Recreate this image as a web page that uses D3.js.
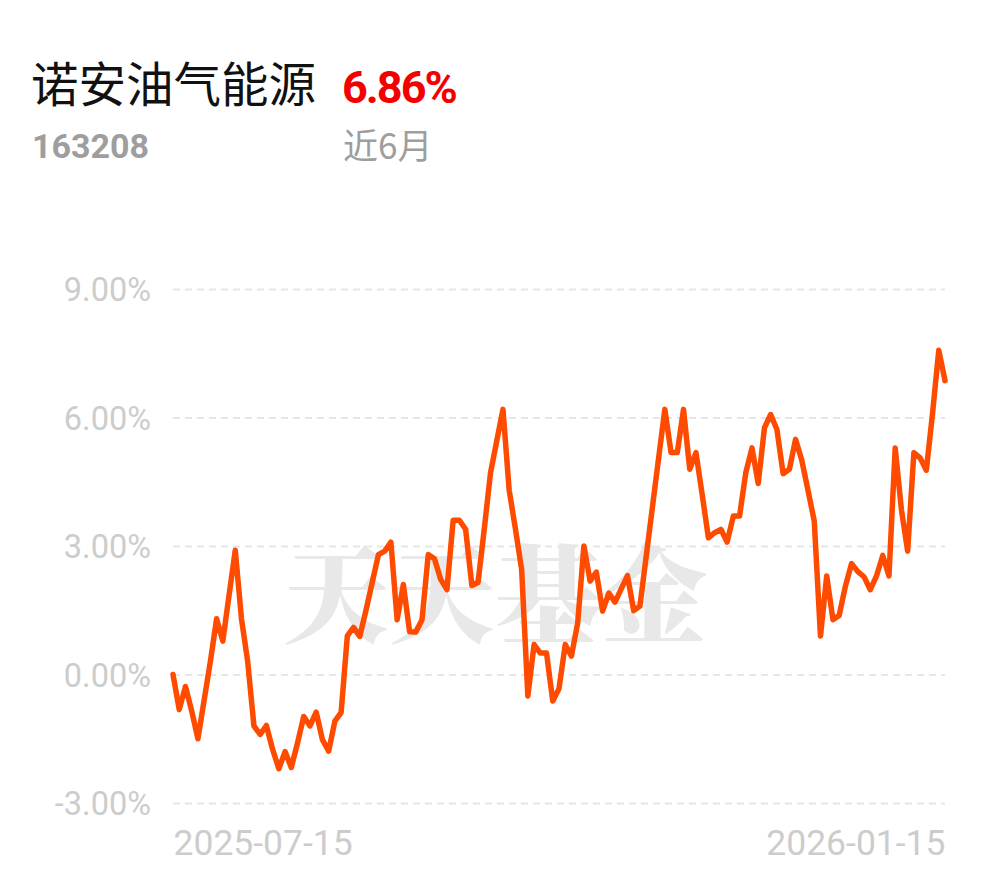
<!DOCTYPE html>
<html>
<head>
<meta charset="utf-8">
<script src="https://cdn.jsdelivr.net/npm/d3@7"></script>
<style>
  body { margin: 0; background: #fff; }
  #chart { width: 990px; height: 878px; }
</style>
</head>
<body>
<div id="chart"></div>
<script>
// fund info
const fundName = "诺安油气能源"
const fundCode = "163208"
const periodReturn = "6.86%"
const periodLabel = "近6月"

// y ticks (percent) and x tick labels (first / last day)
const yTicks = [-3, 0, 3, 6, 9]
const xTickLabels = ["2025-07-15", "2026-01-15"]

// cumulative return per trading day, %
const returns = [
  0.00, -0.82, -0.28, -0.85, -1.50, -0.60, 0.30, 1.30, 0.78, 1.85,
  2.90, 1.30, 0.30, -1.20, -1.40, -1.19, -1.75, -2.20, -1.80, -2.17,
  -1.60, -0.98, -1.20, -0.88, -1.52, -1.79, -1.09, -0.89, 0.90, 1.10,
  0.89, 1.50, 2.15, 2.80, 2.88, 3.09, 1.28, 2.10, 1.00, 0.99,
  1.28, 2.80, 2.70, 2.22, 1.98, 3.60, 3.60, 3.39, 2.08, 2.15,
  3.40, 4.71, 5.45, 6.19, 4.30, 3.40, 2.45, -0.50, 0.70, 0.50,
  0.50, -0.62, -0.33, 0.70, 0.43, 1.20, 3.00, 2.18, 2.39, 1.48,
  1.90, 1.69, 2.00, 2.31, 1.49, 1.60, 2.75, 3.90, 5.05, 6.19,
  5.18, 5.18, 6.19, 4.79, 5.18, 4.20, 3.19, 3.31, 3.39, 3.09,
  3.70, 3.70, 4.71, 5.29, 4.46, 5.76, 6.07, 5.72, 4.69, 4.79,
  5.49, 5.00, 4.30, 3.58, 0.90, 2.30, 1.28, 1.38, 2.06, 2.59,
  2.40, 2.28, 1.98, 2.30, 2.78, 2.30, 5.29, 3.85, 2.88, 5.18,
  5.06, 4.77, 6.10, 7.57, 6.86
]

const width = 990
const height = 878

const svg = d3.select("#chart")
              .append("svg")
              .attr("width", width)
              .attr("height", height)

// header
svg.append("text")
   .attr("x", 31)
   .attr("y", 102)
   .attr("font-family", "'Noto Sans CJK SC', sans-serif")
   .attr("font-size", 47.5)
   .attr("fill", "#111")
   .text(fundName)

svg.append("text")
   .attr("x", 342)
   .attr("y", 103)
   .attr("font-family", "Roboto, sans-serif")
   .attr("font-weight", "bold")
   .attr("font-size", 45)
   .attr("letter-spacing", -2)
   .attr("fill", "#f50000")
   .text(periodReturn)

svg.append("text")
   .attr("x", 32)
   .attr("y", 158)
   .attr("font-family", "Roboto, sans-serif")
   .attr("font-weight", "bold")
   .attr("font-size", 34)
   .attr("fill", "#9e9e9e")
   .text(fundCode)

svg.append("text")
   .attr("x", 343)
   .attr("y", 159)
   .attr("font-family", "'Noto Sans CJK SC', sans-serif")
   .attr("font-size", 35)
   .attr("fill", "#9e9e9e")
   .text(periodLabel)

// scales
const xScale = d3.scaleLinear()
                 .domain([0, returns.length - 1])
                 .range([173, 945])

const yScale = d3.scaleLinear()
                 .domain([-3, 9])
                 .range([803, 289])

// watermark
svg.append("text")
   .attr("x", 495)
   .attr("y", 634)
   .attr("text-anchor", "middle")
   .attr("font-family", "'Noto Serif CJK SC', 'Noto Sans CJK SC', serif")
   .attr("font-weight", 900)
   .attr("font-size", 106)
   .attr("fill", "#e8e8e8")
   .text("天天基金")

// grid + y labels
const yAxis = d3.axisLeft(yScale)
                .tickValues(yTicks)
                .tickSize(-(945 - 173))
                .tickPadding(22)
                .tickFormat(d => d.toFixed(2) + "%")

const yG = svg.append("g")
              .attr("transform", "translate(173, 0)")
              .call(yAxis)
yG.select(".domain").remove()
yG.selectAll(".tick line")
  .attr("stroke", "#e6e6e6")
  .attr("stroke-width", 2)
  .attr("stroke-dasharray", "7,5")
yG.selectAll(".tick text")
  .attr("font-family", "Roboto, sans-serif")
  .attr("font-size", 32.5)
  .attr("fill", "#cccccc")
  .attr("dy", "0.36em")

// x labels, first and last
const xAxis = d3.axisBottom(xScale)
                .tickValues([0, returns.length - 1])
                .tickSize(0)
                .tickPadding(27)
                .tickFormat((d, i) => xTickLabels[i])

const xG = svg.append("g")
              .attr("transform", "translate(0, 803)")
              .call(xAxis)
xG.select(".domain").remove()
xG.selectAll(".tick text")
  .attr("font-family", "Roboto, sans-serif")
  .attr("font-size", 35.5)
  .attr("fill", "#cccccc")
  .attr("dy", "0.71em")
  .attr("text-anchor", (d, i) => i == 0 ? "start" : "end")

// line
const line = d3.line()
               .x((d, i) => xScale(i))
               .y(d => yScale(d))

svg.append("path")
   .datum(returns)
   .attr("d", line)
   .attr("fill", "none")
   .attr("stroke", "#ff4b00")
   .attr("stroke-width", 5.5)
   .attr("stroke-linejoin", "round")
   .attr("stroke-linecap", "round")
</script>
</body>
</html>
